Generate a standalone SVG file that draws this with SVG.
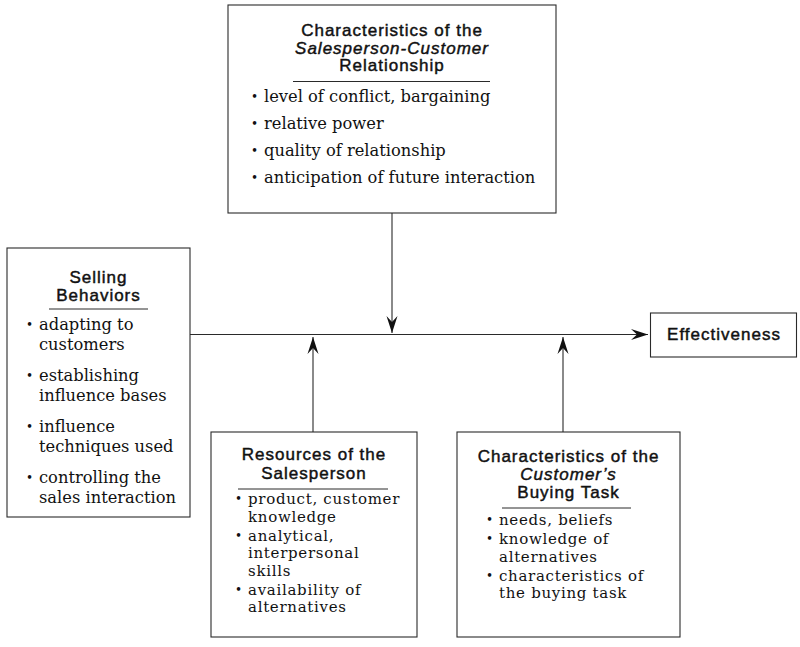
<svg xmlns="http://www.w3.org/2000/svg" width="800" height="647" viewBox="0 0 800 647">
  <style>
    .box { fill: #fff; stroke: #2a2a2a; stroke-width: 1.1; }
    .rule { stroke: #2a2a2a; stroke-width: 1; }
    .head { font-family: "Liberation Sans", Arial, sans-serif; font-size: 17px; letter-spacing: 1px; fill: #111; stroke: #111; stroke-width: 0.45px; text-anchor: middle; }
    .item { font-family: "DejaVu Serif", "Liberation Serif", serif; font-size: 16.3px; fill: #111; }
    .tight { font-size: 15px; letter-spacing: 0.7px; }
    .dot { font-size: 12px; letter-spacing: 0; }
    .wire { fill: none; stroke: #2a2a2a; stroke-width: 1.1; }
  </style>
  <defs>
    <marker id="arrow" viewBox="-18 -7 19 14" markerWidth="19" markerHeight="14" refX="0" refY="0" orient="auto" markerUnits="userSpaceOnUse">
      <path d="M0,0 L-17,-5.5 L-11,0 L-17,5.5 Z" fill="#111"/>
    </marker>
  </defs>
  <rect width="800" height="647" fill="#fff"/>

  <!-- connectors -->
  <g id="connectors">
    <line class="wire" x1="190" y1="334.5" x2="648" y2="334.5" marker-end="url(#arrow)"/>
    <line class="wire" x1="392" y1="213" x2="392" y2="333" marker-end="url(#arrow)"/>
    <line class="wire" x1="313" y1="432" x2="313" y2="337" marker-end="url(#arrow)"/>
    <line class="wire" x1="563" y1="432" x2="563" y2="337" marker-end="url(#arrow)"/>
  </g>

  <!-- relationship characteristics -->
  <g id="relationship">
    <rect class="box" x="228" y="5" width="328" height="208"/>
    <text class="head" x="392" y="36">Characteristics of the</text>
    <text class="head" x="392" y="53.5" font-style="italic">Salesperson-Customer</text>
    <text class="head" x="392" y="71">Relationship</text>
    <line class="rule" x1="293" y1="81.5" x2="490" y2="81.5"/>
    <text class="item"><tspan class="dot" x="251" y="101">•</tspan><tspan x="264" y="102">level of conflict, bargaining</tspan></text>
    <text class="item"><tspan class="dot" x="251" y="128">•</tspan><tspan x="264" y="129">relative power</tspan></text>
    <text class="item"><tspan class="dot" x="251" y="155">•</tspan><tspan x="264" y="156">quality of relationship</tspan></text>
    <text class="item"><tspan class="dot" x="251" y="182">•</tspan><tspan x="264" y="183">anticipation of future interaction</tspan></text>
  </g>

  <!-- selling behaviors -->
  <g id="selling">
    <rect class="box" x="7" y="248" width="183" height="269"/>
    <text class="head" x="98.5" y="283">Selling</text>
    <text class="head" x="98.5" y="301">Behaviors</text>
    <line class="rule" x1="49" y1="309" x2="148" y2="309"/>
    <text class="item"><tspan class="dot" x="26" y="329">•</tspan><tspan x="39" y="330">adapting to</tspan><tspan x="39" y="350">customers</tspan></text>
    <text class="item"><tspan class="dot" x="26" y="380">•</tspan><tspan x="39" y="381">establishing</tspan><tspan x="39" y="401">influence bases</tspan></text>
    <text class="item"><tspan class="dot" x="26" y="431">•</tspan><tspan x="39" y="432">influence</tspan><tspan x="39" y="452">techniques used</tspan></text>
    <text class="item"><tspan class="dot" x="26" y="482">•</tspan><tspan x="39" y="483">controlling the</tspan><tspan x="39" y="503">sales interaction</tspan></text>
  </g>

  <!-- effectiveness -->
  <g id="effectiveness">
    <rect class="box" x="650.5" y="313" width="146" height="44"/>
    <text class="head" x="724" y="340">Effectiveness</text>
  </g>

  <!-- salesperson resources -->
  <g id="resources">
    <rect class="box" x="211" y="432" width="206" height="205"/>
    <text class="head" x="314" y="460">Resources of the</text>
    <text class="head" x="314" y="479">Salesperson</text>
    <line class="rule" x1="238" y1="489" x2="388" y2="489"/>
    <text class="item tight"><tspan class="dot" x="235" y="503">•</tspan><tspan x="248" y="504">product, customer</tspan><tspan x="248" y="521.6">knowledge</tspan></text>
    <text class="item tight"><tspan class="dot" x="235" y="539.6">•</tspan><tspan x="248" y="540.6">analytical,</tspan><tspan x="248" y="558.2">interpersonal</tspan><tspan x="248" y="575.8">skills</tspan></text>
    <text class="item tight"><tspan class="dot" x="235" y="593.8">•</tspan><tspan x="248" y="594.8">availability of</tspan><tspan x="248" y="612.4">alternatives</tspan></text>
  </g>

  <!-- buying task characteristics -->
  <g id="buying-task">
    <rect class="box" x="457" y="432" width="223" height="205"/>
    <text class="head" x="568.5" y="462">Characteristics of the</text>
    <text class="head" x="568.5" y="480" font-style="italic">Customer’s</text>
    <text class="head" x="568.5" y="498">Buying Task</text>
    <line class="rule" x1="502" y1="508" x2="631" y2="508"/>
    <text class="item tight"><tspan class="dot" x="486" y="524">•</tspan><tspan x="499" y="525">needs, beliefs</tspan></text>
    <text class="item tight"><tspan class="dot" x="486" y="543">•</tspan><tspan x="499" y="544">knowledge of</tspan><tspan x="499" y="561.6">alternatives</tspan></text>
    <text class="item tight"><tspan class="dot" x="486" y="579.6">•</tspan><tspan x="499" y="580.6">characteristics of</tspan><tspan x="499" y="598.2">the buying task</tspan></text>
  </g>
</svg>
